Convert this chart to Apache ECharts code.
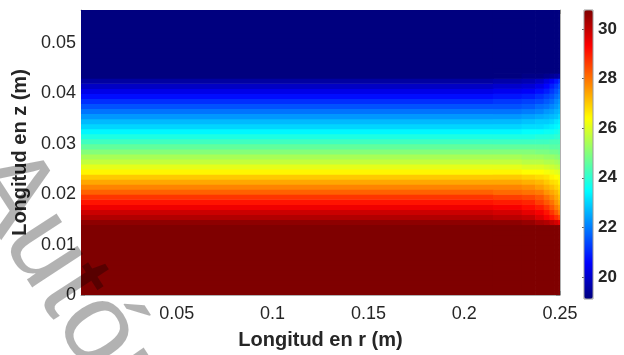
<!DOCTYPE html>
<html><head><meta charset="utf-8">
<script src="https://cdn.jsdelivr.net/npm/echarts@6/dist/echarts.min.js"></script>
<style>html,body{margin:0;padding:0;background:#fff}#c{width:624px;height:355px}</style>
</head><body><div id="c"></div>
<script>
// radial column edges (m)
const rEdges = [0, 0.215, 0.23, 0.237, 0.2415, 0.2445, 0.247, 0.249, 0.25];
// axial rows: 1 mm bins from 0 to 0.057 m
const zEdges = [];
for (let k = 0; k <= 57; k++) zEdges.push(+(k * 0.001).toFixed(3));

// temperature (°C) per column, bottom row (z=0) first
const tempCore = [30.77,30.77,30.77,30.77,30.77,30.77,30.77,30.77,30.77,30.77,30.77,30.77,30.77,30.77,
  30.6,30.2,29.9,29.5,29.1,28.7,28.2,27.8,27.4,27.0,26.5,26.1,25.7,25.4,25.0,24.6,24.2,23.8,23.4,23.0,22.7,22.3,21.9,21.5,21.1,20.7,20.3,19.9,19.5,19.11,
  19.11,19.11,19.11,19.11,19.11,19.11,19.11,19.11,19.11,19.11,19.11,19.11,19.11];
const tempC1 = [30.77,30.77,30.77,30.77,30.77,30.77,30.77,30.77,30.77,30.77,30.77,30.77,30.77,30.77,
  30.6,30.1,29.8,29.4,29.0,28.6,28.1,27.8,27.4,27.0,26.5,26.1,25.7,25.4,25.0,24.6,24.2,23.8,23.4,23.0,22.7,22.3,21.9,21.5,21.2,20.8,20.4,20.0,19.6,19.11,
  19.11,19.11,19.11,19.11,19.11,19.11,19.11,19.11,19.11,19.11,19.11,19.11,19.11];
const tempC2 = [30.77,30.77,30.77,30.77,30.77,30.77,30.77,30.77,30.77,30.77,30.77,30.77,30.77,30.77,
  30.5,30.0,29.6,29.2,28.9,28.5,28.0,27.7,27.3,26.9,26.4,26.0,25.6,25.3,25.0,24.6,24.2,23.8,23.5,23.1,22.8,22.4,22.0,21.6,21.3,20.9,20.5,20.1,19.7,19.2,
  19.11,19.11,19.11,19.11,19.11,19.11,19.11,19.11,19.11,19.11,19.11,19.11,19.11];
const tempC3 = [30.77,30.77,30.77,30.77,30.77,30.77,30.77,30.77,30.77,30.77,30.77,30.77,30.77,30.77,
  30.3,29.7,29.4,29.0,28.6,28.3,27.9,27.5,27.2,26.8,26.4,26.0,25.6,25.3,24.9,24.6,24.2,23.9,23.5,23.1,22.9,22.5,22.1,21.8,21.4,21.1,20.7,20.3,19.9,19.2,
  19.11,19.11,19.11,19.11,19.11,19.11,19.11,19.11,19.11,19.11,19.11,19.11,19.11];
const tempC4 = [30.77,30.77,30.77,30.77,30.77,30.77,30.77,30.77,30.77,30.77,30.77,30.77,30.77,30.77,
  30.2,29.4,29.1,28.7,28.3,28.0,27.6,27.3,27.0,26.7,26.3,25.9,25.5,25.2,24.9,24.6,24.2,23.9,23.6,23.2,22.9,22.6,22.3,21.9,21.6,21.3,20.9,20.6,20.2,19.3,
  19.11,19.11,19.11,19.11,19.11,19.11,19.11,19.11,19.11,19.11,19.11,19.11,19.11];
const tempC5 = [30.77,30.77,30.77,30.77,30.77,30.77,30.77,30.77,30.77,30.77,30.77,30.77,30.77,30.77,
  30.0,29.1,28.7,28.3,28.0,27.7,27.4,27.1,26.8,26.5,26.2,25.8,25.5,25.2,24.8,24.5,24.3,23.9,23.6,23.3,23.0,22.7,22.4,22.1,21.8,21.5,21.2,20.9,20.5,19.4,
  19.11,19.11,19.11,19.11,19.11,19.11,19.11,19.11,19.11,19.11,19.11,19.11,19.11];
const tempC6 = [30.77,30.77,30.77,30.77,30.77,30.77,30.77,30.77,30.77,30.77,30.77,30.77,30.77,30.77,
  29.8,28.8,28.3,27.9,27.6,27.4,27.2,26.9,26.7,26.4,26.1,25.7,25.4,25.1,24.8,24.5,24.3,24.0,23.7,23.4,23.2,22.8,22.6,22.3,22.1,21.8,21.5,21.2,20.8,19.5,
  19.11,19.11,19.11,19.11,19.11,19.11,19.11,19.11,19.11,19.11,19.11,19.11,19.11];
const tempWall = [30.77,30.77,30.77,30.77,30.77,30.77,30.77,30.77,30.77,30.77,30.77,30.77,30.77,30.77,
  29.6,28.5,27.9,27.6,27.3,27.1,26.9,26.7,26.5,26.3,26.0,25.6,25.3,25.0,24.7,24.5,24.3,24.0,23.8,23.5,23.3,23.0,22.7,22.5,22.3,22.0,21.8,21.5,21.1,19.6,
  19.11,19.11,19.11,19.11,19.11,19.11,19.11,19.11,19.11,19.11,19.11,19.11,19.11];
const columns = [tempCore, tempC1, tempC2, tempC3, tempC4, tempC5, tempC6, tempWall];

const tMin = 19.11, tMax = 30.77;
const colorbarTicks = [20, 22, 24, 26, 28, 30];
const jet = ['#00007F','#0000FF','#007FFF','#00FFFF','#7FFF7F','#FFFF00','#FF7F00','#FF0000','#7F0000'];
const watermark = 'Autónoma';

const cells = [];
columns.forEach((col, i) => col.forEach((t, k) => {
  cells.push([rEdges[i], rEdges[i + 1], zEdges[k], zEdges[k + 1], t]);
}));

const FONT = '"Liberation Sans", Arial, Helvetica, sans-serif';
const TXT = '#262626';

function renderItem(params, api) {
  const p0 = api.coord([api.value(0), api.value(3)]);
  const p1 = api.coord([api.value(1), api.value(2)]);
  const cs = params.coordSys;
  const rect = echarts.graphic.clipRectByRect(
    { x: p0[0], y: p0[1], width: p1[0] - p0[0] + 0.7, height: p1[1] - p0[1] + 0.7 },
    { x: cs.x, y: cs.y, width: cs.width, height: cs.height });
  if (!rect) return null;
  return { type: 'rect', shape: rect, style: { fill: api.visual('color') } };
}

const boxAxis = {
  axisLine: { show: true, onZero: false, lineStyle: { color: '#b0b0b0', width: 1 } },
  axisTick: { show: true, inside: true, length: 4, lineStyle: { color: '#8a8a8a' } },
  splitLine: { show: false }
};

const chart = echarts.init(document.getElementById('c'), null, { renderer: 'canvas' });
chart.setOption({
  animation: false,
  backgroundColor: '#fff',
  textStyle: { fontFamily: FONT },
  grid: [
    { left: 81, top: 10, width: 479, height: 289 },
    { left: 584, top: 10, width: 9, height: 289 }
  ],
  xAxis: [
    Object.assign({ gridIndex: 0, type: 'value', min: 0, max: 0.25, interval: 0.05, position: 'bottom',
      axisLabel: { showMinLabel: false, fontSize: 18, color: TXT, margin: 10, fontFamily: FONT },
      name: 'Longitud en r (m)', nameLocation: 'middle', nameGap: 35,
      nameTextStyle: { fontSize: 20, fontWeight: 'bold', color: TXT, fontFamily: FONT } }, boxAxis),
    { gridIndex: 1, type: 'value', show: false, min: 0, max: 1 },
    Object.assign({ gridIndex: 0, type: 'value', min: 0, max: 0.25, interval: 0.05, position: 'top',
      axisLabel: { show: false } }, boxAxis)
  ],
  yAxis: [
    Object.assign({ gridIndex: 0, type: 'value', min: 0, max: 0.0565, interval: 0.01, position: 'left',
      axisLabel: { showMaxLabel: false, fontSize: 18, color: TXT, margin: 5, fontFamily: FONT },
      name: 'Longitud en z (m)', nameLocation: 'middle', nameGap: 42,
      nameTextStyle: { fontSize: 20, fontWeight: 'bold', color: TXT, fontFamily: FONT } }, boxAxis),
    { gridIndex: 1, type: 'value', min: tMin, max: tMax, position: 'right',
      axisLine: { show: false },
      axisTick: { show: true, inside: true, length: 2, customValues: colorbarTicks, lineStyle: { color: '#666' } },
      axisLabel: { customValues: colorbarTicks, fontSize: 17, fontWeight: 'bold', color: TXT, margin: 5, fontFamily: FONT },
      splitLine: { show: false } },
    Object.assign({ gridIndex: 0, type: 'value', min: 0, max: 0.0565, interval: 0.01, position: 'right',
      axisLabel: { show: false } }, boxAxis)
  ],
  visualMap: {
    type: 'continuous', min: tMin, max: tMax, dimension: 4, seriesIndex: 0,
    inRange: { color: jet }, calculable: false, text: null, showLabel: false,
    orient: 'vertical', left: 584, top: 10, itemWidth: 9, itemHeight: 289, padding: 0
  },
  series: [{
    type: 'custom', xAxisIndex: 0, yAxisIndex: 0,
    renderItem: renderItem,
    encode: { x: [0, 1], y: [2, 3] },
    data: cells, z: 1
  }],
  graphic: [
    { type: 'rect', shape: { x: 584, y: 10, width: 9, height: 289 },
      style: { fill: 'none', stroke: '#9a9a9a', lineWidth: 1 }, z: 50 },
    { type: 'text', x: -62, y: 190, rotation: -57 * Math.PI / 180, z: 100,
      style: { text: watermark, font: '115px "Liberation Sans", Arial, sans-serif',
        fill: 'rgba(0,0,0,0.3)', verticalAlign: 'bottom', align: 'left' } }
  ]
});
</script></body></html>
